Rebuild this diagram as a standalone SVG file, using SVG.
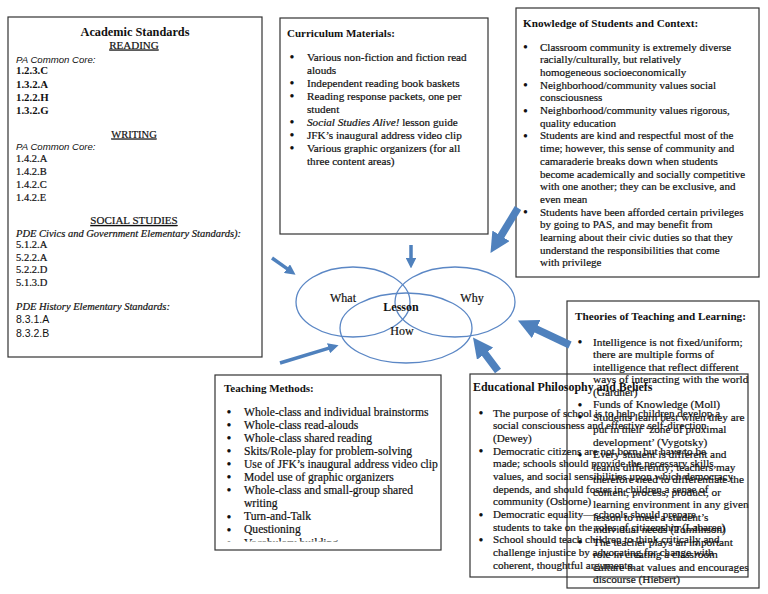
<svg xmlns="http://www.w3.org/2000/svg" width="768" height="594" viewBox="0 0 768 594">
<defs>
<style>
.box{fill:#fff;stroke:#333;stroke-width:1.2}
.boxo{fill:none;stroke:#333;stroke-width:1.2}
.s{font-family:"Liberation Serif",serif;fill:#111;stroke:#111;stroke-width:0.2}
.ss{font-family:"Liberation Sans",sans-serif;fill:#111}
.h{font-family:"Liberation Serif",serif;font-weight:bold;fill:#111}
.bl{font-family:"Liberation Serif",serif;font-weight:bold;fill:#111;text-anchor:middle;font-size:12.5px}
.i{font-style:italic}
.u{text-decoration:underline}
.c{text-anchor:middle}
.ell{fill:none;stroke:#5B87C5;stroke-width:1.3}
.arr{stroke:#4F81BD;fill:none}
</style>
<marker id="ahThin" viewBox="0 0 10 10" refX="0.5" refY="5" markerWidth="3" markerHeight="3" markerUnits="strokeWidth" orient="auto"><path d="M0,0 L10,5 L0,10 z" fill="#4F81BD"/></marker>
<marker id="ahThick" viewBox="0 0 10 10" refX="0.5" refY="5" markerWidth="2.7" markerHeight="2.7" markerUnits="strokeWidth" orient="auto"><path d="M0,0 L10,5 L0,10 z" fill="#4F81BD"/></marker>
<clipPath id="tmclip"><rect x="215" y="375" width="226" height="166.5"/></clipPath>
</defs>
<rect width="768" height="594" fill="#fff"/>

<g id="academic">
<rect class="box" x="8" y="17" width="254" height="340"/>
<text class="h c" x="135" y="36" font-size="12.3">Academic Standards</text>
<text class="s c u" x="134" y="48.5" font-size="11">READING</text>
<text class="ss i" x="16" y="62.5" font-size="9.6">PA Common Core:</text>
<g class="h" font-size="10.8">
<text x="16" y="74">1.2.3.C</text>
<text x="16" y="87.5">1.3.2.A</text>
<text x="16" y="100.5">1.2.2.H</text>
<text x="16" y="113.5">1.3.2.G</text>
</g>
<text class="s c u" x="134" y="137.5" font-size="10.5">WRITING</text>
<text class="ss i" x="16" y="150" font-size="9.6">PA Common Core:</text>
<g class="s" font-size="10.5">
<text x="16" y="161.5">1.4.2.A</text>
<text x="16" y="174.5">1.4.2.B</text>
<text x="16" y="187.5">1.4.2.C</text>
<text x="16" y="200.5">1.4.2.E</text>
</g>
<text class="s c u" x="134" y="224" font-size="11">SOCIAL STUDIES</text>
<text class="s i" x="16" y="237" font-size="10.5">PDE Civics and Government Elementary Standards):</text>
<g class="s" font-size="10.5">
<text x="16" y="248">5.1.2.A</text>
<text x="16" y="260.5">5.2.2.A</text>
<text x="16" y="273">5.2.2.D</text>
<text x="16" y="285.5">5.1.3.D</text>
</g>
<text class="s i" x="16" y="310" font-size="10.5">PDE History Elementary Standards:</text>
<g class="ss" font-size="10.5">
<text x="16" y="323">8.3.1.A</text>
<text x="16" y="337">8.3.2.B</text>
</g>
</g>

<g id="curriculum">
<rect class="box" x="280" y="18" width="208" height="216"/>
<text class="h" x="287" y="36.5" font-size="11">Curriculum Materials:</text>
<g class="bl">
<text x="292" y="61">•</text>
<text x="292" y="87">•</text>
<text x="292" y="100">•</text>
<text x="292" y="126">•</text>
<text x="292" y="139">•</text>
<text x="292" y="152">•</text>
</g>
<g class="s" font-size="11.2">
<text x="307" y="60.5">Various non-fiction and fiction read</text>
<text x="307" y="73.5">alouds</text>
<text x="307" y="86.5">Independent reading book baskets</text>
<text x="307" y="99.5">Reading response packets, one per</text>
<text x="307" y="112.5">student</text>
<text x="307" y="125.5"><tspan font-style="italic">Social Studies Alive!</tspan> lesson guide</text>
<text x="307" y="138.5">JFK’s inaugural address video clip</text>
<text x="307" y="151.5">Various graphic organizers (for all</text>
<text x="307" y="164.5">three content areas)</text>
</g>
</g>

<g id="knowledge">
<rect class="box" x="516" y="8" width="243" height="269"/>
<text class="h" x="523" y="27" font-size="11.2">Knowledge of Students and Context:</text>
<g class="bl">
<text x="525.5" y="51">•</text>
<text x="525.5" y="89">•</text>
<text x="525.5" y="114.5">•</text>
<text x="525.5" y="140">•</text>
<text x="525.5" y="216">•</text>
</g>
<g class="s" font-size="11">
<text x="540" y="50.5">Classroom community is extremely diverse</text>
<text x="540" y="63.2">racially/culturally, but relatively</text>
<text x="540" y="75.9">homogeneous socioeconomically</text>
<text x="540" y="88.6">Neighborhood/community values social</text>
<text x="540" y="101.3">consciousness</text>
<text x="540" y="114">Neighborhood/community values rigorous,</text>
<text x="540" y="126.7">quality education</text>
<text x="540" y="139.4">Students are kind and respectful most of the</text>
<text x="540" y="152.1">time; however, this sense of community and</text>
<text x="540" y="164.8">camaraderie breaks down when students</text>
<text x="540" y="177.5">become academically and socially competitive</text>
<text x="540" y="190.2">with one another; they can be exclusive, and</text>
<text x="540" y="202.9">even mean</text>
<text x="540" y="215.6">Students have been afforded certain privileges</text>
<text x="540" y="228.3">by going to PAS, and may benefit from</text>
<text x="540" y="241">learning about their civic duties so that they</text>
<text x="540" y="253.7">understand the responsibilities that come</text>
<text x="540" y="266.4">with privilege</text>
</g>
</g>

<g id="methods">
<rect class="box" x="215" y="375" width="226" height="175"/>
<text class="h" x="224" y="391.5" font-size="11">Teaching Methods:</text>
<g clip-path="url(#tmclip)">
<g class="bl">
<text x="229" y="416">•</text>
<text x="229" y="429">•</text>
<text x="229" y="442">•</text>
<text x="229" y="455">•</text>
<text x="229" y="468">•</text>
<text x="229" y="481">•</text>
<text x="229" y="494">•</text>
<text x="229" y="520.5">•</text>
<text x="229" y="533.5">•</text>
<text x="229" y="547">•</text>
</g>
<g class="s" font-size="11.6">
<text x="244" y="415.5">Whole-class and individual brainstorms</text>
<text x="244" y="428.6">Whole-class read-alouds</text>
<text x="244" y="441.7">Whole-class shared reading</text>
<text x="244" y="454.8">Skits/Role-play for problem-solving</text>
<text x="244" y="467.9">Use of JFK’s inaugural address video clip</text>
<text x="244" y="481">Model use of graphic organizers</text>
<text x="244" y="494.1">Whole-class and small-group shared</text>
<text x="244" y="507.2">writing</text>
<text x="244" y="520.3">Turn-and-Talk</text>
<text x="244" y="533.4">Questioning</text>
<text x="244" y="546.5">Vocabulary building</text>
</g>
</g>
</g>

<g id="theories">
<rect class="box" x="567" y="301" width="192" height="287"/>
<text class="h" x="575" y="320" font-size="11.2">Theories of Teaching and Learning:</text>
<g class="bl">
<text x="580" y="346">•</text>
<text x="580" y="408.5">•</text>
<text x="580" y="421">•</text>
<text x="580" y="458.5">•</text>
<text x="580" y="546">•</text>
</g>
<g class="s" font-size="11.3">
<text x="593" y="345.5">Intelligence is not fixed/uniform;</text>
<text x="593" y="358">there are multiple forms of</text>
<text x="593" y="370.5">intelligence that reflect different</text>
<text x="593" y="383">ways of interacting with the world</text>
<text x="593" y="395.5">(Gardner)</text>
<text x="593" y="408">Funds of Knowledge (Moll)</text>
<text x="593" y="420.5">Students learn best when they are</text>
<text x="593" y="433">put in their ‘zone of proximal</text>
<text x="593" y="445.5">development’ (Vygotsky)</text>
<text x="593" y="458">Every student is different and</text>
<text x="593" y="470.5">learns differently; teachers may</text>
<text x="593" y="483">therefore need to differentiate the</text>
<text x="593" y="495.5">content, process, product, or</text>
<text x="593" y="508">learning environment in any given</text>
<text x="593" y="520.5">lesson to meet a student’s</text>
<text x="593" y="533">individual needs (Tomlinson)</text>
<text x="593" y="545.5">The teacher plays an important</text>
<text x="593" y="558">role in creating a classroom</text>
<text x="593" y="570.5">culture that values and encourages</text>
<text x="593" y="583">discourse (Hiebert)</text>
</g>
</g>

<g id="philosophy">
<rect class="boxo" x="470" y="374" width="278" height="203"/>
<text class="h" x="473" y="391" font-size="11.9">Educational Philosophy and Beliefs</text>
<g class="bl">
<text x="481" y="417">•</text>
<text x="481" y="455">•</text>
<text x="481" y="518.5">•</text>
<text x="481" y="543.5">•</text>
</g>
<g class="s" font-size="11.1">
<text x="493" y="416.5">The purpose of school is to help children develop a</text>
<text x="493" y="429.2">social consciousness and effective self-direction</text>
<text x="493" y="441.8">(Dewey)</text>
<text x="493" y="454.5">Democratic citizens are not born, but have to be</text>
<text x="493" y="467.2">made; schools should provide the necessary skills,</text>
<text x="493" y="479.9">values, and social sensibilities upon which democracy</text>
<text x="493" y="492.5">depends, and should foster in children a sense of</text>
<text x="493" y="505.2">community  (Osborne)</text>
<text x="493" y="517.9">Democratic equality—schools should prepare</text>
<text x="493" y="530.5">students to take on the roles of citizenship (Labaree)</text>
<text x="493" y="543.2">School should teach children to think critically and</text>
<text x="493" y="555.9">challenge injustice by advocating for change with</text>
<text x="493" y="568.5">coherent, thoughtful arguments.</text>
</g>
</g>

<g id="venn">
<g id="what"><ellipse class="ell" cx="353" cy="302" rx="57" ry="35"/><text class="s c" x="343" y="302" font-size="12">What</text></g>
<g id="why"><ellipse class="ell" cx="455" cy="302" rx="60" ry="35"/><text class="s c" x="472" y="302" font-size="12">Why</text></g>
<g id="how"><ellipse class="ell" cx="406" cy="328" rx="66" ry="35"/><text class="s c" x="402" y="335" font-size="12">How</text></g>
<text class="h c" x="401" y="311" font-size="12">Lesson</text>
</g>

<g id="connectors">
<line class="arr" x1="272" y1="258" x2="287.4" y2="268.9" stroke-width="3.5" marker-end="url(#ahThin)"/>
<line class="arr" x1="411" y1="245" x2="411" y2="258.5" stroke-width="3.5" marker-end="url(#ahThin)"/>
<line class="arr" x1="280" y1="363" x2="329" y2="348.1" stroke-width="3.5" marker-end="url(#ahThin)"/>
<line class="arr" x1="518" y1="208" x2="500.5" y2="236.7" stroke-width="7.5" marker-end="url(#ahThick)"/>
<line class="arr" x1="498" y1="371" x2="484.5" y2="352.9" stroke-width="7.5" marker-end="url(#ahThick)"/>
<line class="arr" x1="570" y1="345" x2="535.3" y2="328.6" stroke-width="7.5" marker-end="url(#ahThick)"/>
</g>
</svg>
